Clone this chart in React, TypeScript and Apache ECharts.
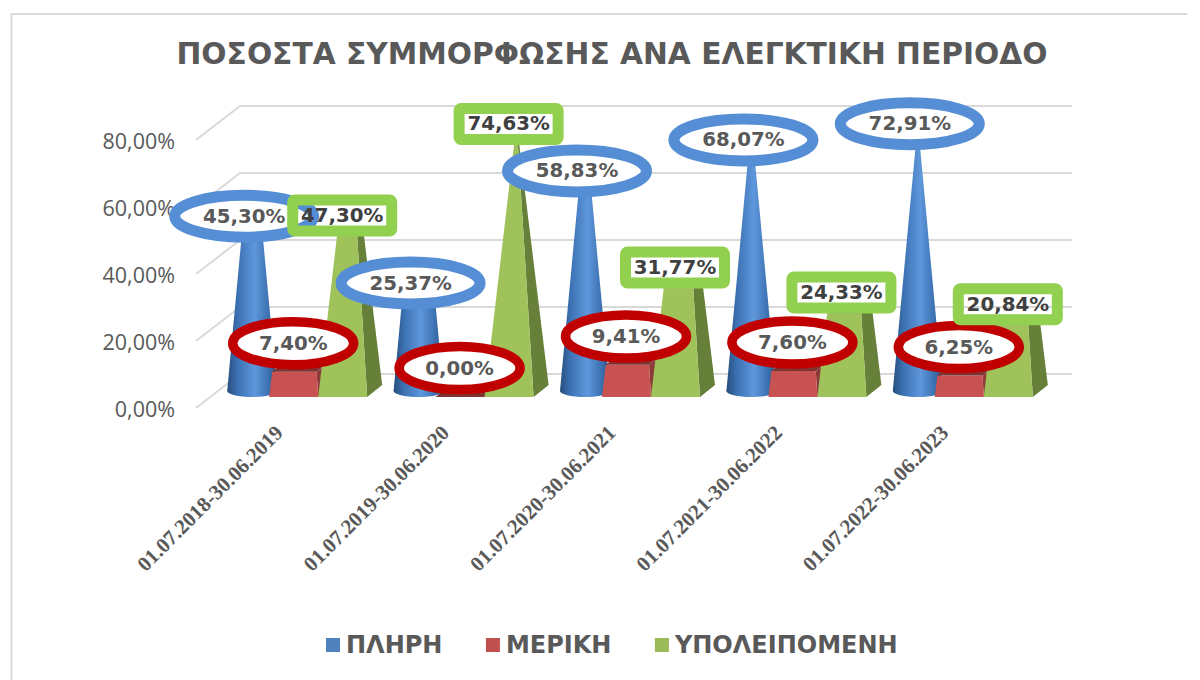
import React, { useEffect, useRef } from "react";
import * as echarts from "echarts";

const categories = [
  "01.07.2018-30.06.2019",
  "01.07.2019-30.06.2020",
  "01.07.2020-30.06.2021",
  "01.07.2021-30.06.2022",
  "01.07.2022-30.06.2023",
];
const full = [45.3, 25.37, 58.83, 68.07, 72.91];
const partial = [7.4, 0.0, 9.41, 7.6, 6.25];
const remaining = [47.3, 74.63, 31.77, 24.33, 20.84];
const yTicks = [0, 20, 40, 60, 80];
const AXIS_MAX = 80;

const fmt = (v: number) => v.toFixed(2).replace(".", ",") + "%";

// pseudo-3D projection
const DEPTH_X = 44;
const DEPTH_Y = 34;
const BAR_W = 49;
const BAR_DX = 15;
const BAR_DY = 12;

const barCentre = (api: any, seriesIdx: number, value: number) => {
  const p = api.coord([api.value(0), value]);
  const b = api.coord([api.value(0), 0]);
  const dx = 22 + (seriesIdx - 1) * BAR_W;
  return { x: p[0] + dx, y: p[1] - DEPTH_Y / 2, bx: b[0] + dx, by: b[1] - DEPTH_Y / 2 };
};

const poly = (points: number[][], fill: any, z2 = 0) => ({
  type: "polygon",
  z2,
  shape: { points },
  style: { fill, stroke: "none" },
});

const pyramid = (seriesIdx: number, front: string, side: string, top: string) => (
  _params: any,
  api: any
) => {
  const v = api.value(1);
  const c = barCentre(api, seriesIdx, v);
  const s = 1 - v / AXIS_MAX;
  const hw = BAR_W / 2;
  const hx = BAR_DX / 2;
  const hy = BAR_DY / 2;
  const fl = [c.bx - hw - hx, c.by + hy];
  const fr = [c.bx + hw - hx, c.by + hy];
  const br = [c.bx + hw + hx, c.by - hy];
  const bl = [c.bx - hw + hx, c.by - hy];
  const t = (pt: number[]) => [c.x + (pt[0] - c.bx) * s, c.y + (pt[1] - c.by) * s];
  return {
    type: "group",
    children: [
      poly([fr, br, t(br), t(fr)], side),
      poly([fl, fr, t(fr), t(fl)], front),
      poly([t(fl), t(fr), t(br), t(bl)], top),
    ],
  };
};

const cone = (_params: any, api: any) => {
  const v = api.value(1);
  const c = barCentre(api, 0, v);
  const s = 1 - v / AXIS_MAX;
  const rx = BAR_W / 2 + 0.5;
  const ry = 6;
  const grad = new echarts.graphic.LinearGradient(0, 0, 1, 0, [
    { offset: 0, color: "#274e7d" },
    { offset: 0.22, color: "#3d73b4" },
    { offset: 0.55, color: "#5f97dc" },
    { offset: 0.8, color: "#3f75b6" },
    { offset: 1, color: "#2a5484" },
  ]);
  return {
    type: "group",
    children: [
      {
        type: "ellipse",
        shape: { cx: c.bx, cy: c.by, rx, ry },
        style: { fill: grad, stroke: "none" },
      },
      poly(
        [
          [c.bx - rx, c.by],
          [c.bx + rx, c.by],
          [c.x + rx * s, c.y],
          [c.x - rx * s, c.y],
        ],
        grad
      ),
    ],
  };
};

const textStyle = (v: number, color: string) => ({
  type: "text",
  z2: 5,
  style: {
    text: fmt(v),
    x: 0,
    y: 0,
    align: "center",
    verticalAlign: "middle",
    fontFamily: "DejaVu Sans",
    fontWeight: "bold",
    fontSize: 19.8,
    fill: color,
  },
});

const ovalLabel = (seriesIdx: number, stroke: string, rx: number, ry: number, lw: number) => (
  _p: any,
  api: any
) => {
  const v = api.value(1);
  const c = barCentre(api, seriesIdx, v);
  const t = textStyle(v, "#595959");
  return {
    type: "group",
    x: c.x - 8,
    y: c.y - 23,
    children: [
      {
        type: "ellipse",
        shape: { cx: 0, cy: 0, rx, ry },
        style: { fill: "#fff", stroke, lineWidth: lw },
      },
      t,
    ],
  };
};

const boxLabel = (_p: any, api: any) => {
  const v = api.value(1);
  const c = barCentre(api, 2, v);
  const t = textStyle(v, "#404040");
  return {
    type: "group",
    x: c.x - 8,
    y: c.y - 17,
    children: [
      {
        type: "rect",
        shape: { x: -49.5, y: -15.5, width: 99, height: 31, r: 2 },
        style: { fill: "none", stroke: "#92d050", lineWidth: 11 },
      },
      t,
    ],
  };
};

const wallItem = (_p: any, api: any) => {
  const v = api.value(0);
  const l = api.coord([0, v]);
  const left = api.coord([0, 0])[0] - (api.size([1, 0])[0] as number) / 2;
  const right = left + 5 * (api.size([1, 0])[0] as number);
  const y = l[1];
  return {
    type: "polyline",
    shape: {
      points: [
        [left, y],
        [left + DEPTH_X, y - DEPTH_Y],
        [right + DEPTH_X, y - DEPTH_Y],
      ],
    },
    style: { fill: "none", stroke: "#d9d9d9", lineWidth: 2 },
  };
};

const custom = (name: string, values: number[], renderItem: any, z: number) => ({
  type: "custom",
  name,
  z,
  clip: false,
  silent: true,
  coordinateSystem: "cartesian2d",
  renderItem,
  encode: { x: 0, y: 1 },
  data: values.map((v, i) => [i, v]),
});

export default function App() {
  const ref = useRef<HTMLDivElement>(null);
  useEffect(() => {
    const chart = echarts.init(ref.current!, undefined, { renderer: "svg" });
    chart.setOption({
      animation: false,
      backgroundColor: "#fff",
      title: {
        text: "ΠΟΣΟΣΤΑ ΣΥΜΜΟΡΦΩΣΗΣ ΑΝΑ ΕΛΕΓΚΤΙΚΗ ΠΕΡΙΟΔΟ",
        left: 607,
        top: 33,
        textAlign: "center",
        textStyle: {
          fontFamily: "DejaVu Sans",
          fontWeight: "bold",
          fontSize: 29.7,
          color: "#595959",
        },
      },
      legend: {
        top: 628,
        left: 321,
        itemWidth: 14,
        itemHeight: 14,
        itemGap: 43.5,
        icon: "rect",
        data: [
          { name: "ΠΛΗΡΗ", itemStyle: { color: "#4f81bd" } },
          { name: "ΜΕΡΙΚΗ", itemStyle: { color: "#c0504d" } },
          { name: "ΥΠΟΛΕΙΠΟΜΕΝΗ", itemStyle: { color: "#9bbb59" } },
        ],
        textStyle: {
          fontFamily: "DejaVu Sans",
          fontWeight: "bold",
          fontSize: 24,
          color: "#595959",
          padding: [0, 0, 0, 1],
        },
      },
      grid: { left: 196, top: 140, width: 832, height: 268 },
      xAxis: {
        type: "category",
        data: categories,
        axisLine: { show: false },
        axisTick: { show: false },
        axisLabel: {
          rotate: 45,
          interval: 0,
          margin: 21,
          fontFamily: "Liberation Serif",
          fontWeight: "bold",
          fontSize: 21,
          color: "#595959",
        },
      },
      yAxis: {
        type: "value",
        min: 0,
        max: AXIS_MAX,
        interval: 20,
        splitLine: { show: false },
        axisLine: { show: false },
        axisTick: { show: false },
        axisLabel: {
          margin: 21,
          fontFamily: "Open Sans",
          fontSize: 21.5,
          color: "#595959",
          formatter: (v: number) => fmt(v),
        },
      },
      graphic: [
        {
          type: "polyline",
          silent: true,
          shape: {
            points: [
              [11.5, 680],
              [11.5, 14],
              [1187, 14],
            ],
          },
          style: { fill: "none", stroke: "#d9d9d9", lineWidth: 2 },
        },
      ],
      series: [
        {
          type: "custom",
          name: "grid",
          z: 1,
          clip: false,
          silent: true,
          coordinateSystem: "cartesian2d",
          renderItem: wallItem,
          encode: { y: 0 },
          data: yTicks.map((v) => [v]),
        },
        custom("ΠΛΗΡΗ", full, cone, 2),
        custom("ΜΕΡΙΚΗ", partial, pyramid(1, "#c85252", "#8e3a38", "#7e3331"), 3),
        custom("ΥΠΟΛΕΙΠΟΜΕΝΗ", remaining, pyramid(2, "#9fc25a", "#66803a", "#7f9c46"), 4),
        custom("l1", full, ovalLabel(0, "#558ed5", 69.5, 21, 11), 5),
        custom("l2", partial, ovalLabel(1, "#c00000", 60.5, 21.5, 9.5), 6),
        custom("l3", remaining, boxLabel, 7),
      ],
    });
    return () => chart.dispose();
  }, []);
  return <div ref={ref} style={{ position: "fixed", left: 0, top: 0, width: 1200, height: 680 }} />;
}
